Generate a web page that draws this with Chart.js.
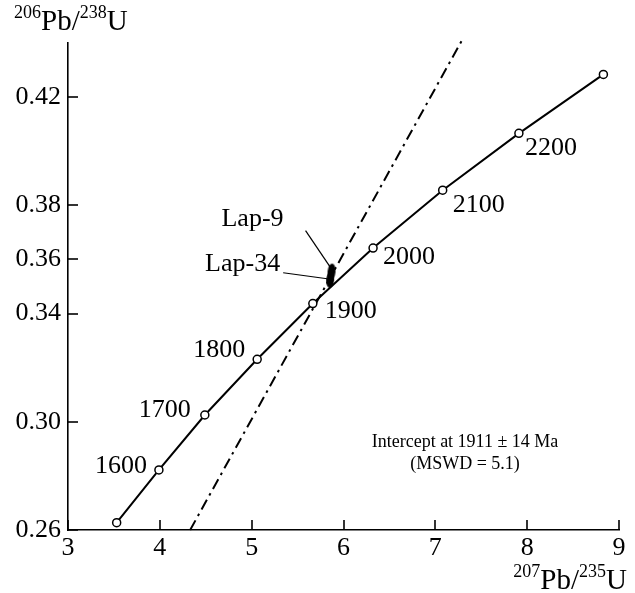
<!DOCTYPE html>
<html>
<head>
<meta charset="utf-8">
<script src="https://cdn.jsdelivr.net/npm/chart.js@4/dist/chart.umd.min.js"></script>
<style>
html,body{margin:0;padding:0;background:#fff;}
#wrap{width:635px;height:593px;}
</style>
</head>
<body>
<div id="wrap"><canvas id="c" width="635" height="593"></canvas></div>
<script>
// ---- data ----
const concordiaX = [3.53, 3.99, 4.49, 5.06, 5.666, 6.322, 7.08, 7.91, 8.83];
const concordiaY = [0.2627, 0.2822, 0.3025, 0.3231, 0.3437, 0.3642, 0.3856, 0.4066, 0.4284];
const concordiaAges = ['', '1600', '1700', '1800', '1900', '2000', '2100', '2200', ''];
const discordiaX = [4.33, 7.29];
const discordiaY = [0.26, 0.441];
const sampleNames = ['Lap-9', 'Lap-34'];
const sampleX = [5.87, 5.855];
const sampleY = [0.3555, 0.3525];
const xTicks = [3, 4, 5, 6, 7, 8, 9];
const yTicks = [0.26, 0.30, 0.34, 0.36, 0.38, 0.42];
const interceptText = ['Intercept at 1911 \u00B1 14 Ma', '(MSWD = 5.1)'];

// ---- styles / layout ----
const SERIF = '"Liberation Serif", "Times New Roman", serif';
const ageLabelStyle = {
  '1600': {align: 'right', dx: -12, dy: -4},
  '1700': {align: 'right', dx: -14, dy: -5},
  '1800': {align: 'right', dx: -12, dy: -9},
  '1900': {align: 'left', dx: 12, dy: 8},
  '2000': {align: 'left', dx: 10, dy: 9},
  '2100': {align: 'left', dx: 10, dy: 15},
  '2200': {align: 'left', dx: 6, dy: 15}
};
const sampleLabelStyle = {
  'Lap-9': {tx: -48, ty: -46, lx0: -26, ly0: -41, lx1: -1, ly1: -4},
  'Lap-34': {tx: -50, ty: -9, lx0: -47, ly0: -7, lx1: -3, ly1: -1}
};

// ellipse marker for samples
const ell = document.createElement('canvas');
ell.width = 12; ell.height = 20;
(function(){
  const g = ell.getContext('2d');
  g.fillStyle = '#000';
  g.beginPath();
  g.ellipse(6, 10, 4, 8, 0.1, 0, Math.PI * 2);
  g.fill();
})();

const toPts = (xs, ys) => xs.map((x, i) => ({x: x, y: ys[i]}));

const decorPlugin = {
  id: 'decor',
  afterDraw(chart) {
    const ctx = chart.ctx;
    const xs = chart.scales.x, ys = chart.scales.y;
    const area = chart.chartArea;
    ctx.save();
    ctx.strokeStyle = '#000';
    ctx.fillStyle = '#000';
    ctx.lineWidth = 1.6;
    ctx.setLineDash([]);
    // inside ticks
    xTicks.forEach(v => {
      const px = Math.round(xs.getPixelForValue(v));
      ctx.beginPath(); ctx.moveTo(px, area.bottom); ctx.lineTo(px, area.bottom - 10); ctx.stroke();
    });
    yTicks.forEach(v => {
      const py = Math.round(ys.getPixelForValue(v));
      ctx.beginPath(); ctx.moveTo(area.left, py); ctx.lineTo(area.left + 10, py); ctx.stroke();
    });
    // age labels
    ctx.font = '26px ' + SERIF;
    ctx.textBaseline = 'middle';
    concordiaAges.forEach((a, i) => {
      if (!a) return;
      const st = ageLabelStyle[a];
      const px = xs.getPixelForValue(concordiaX[i]);
      const py = ys.getPixelForValue(concordiaY[i]);
      ctx.textAlign = st.align;
      ctx.fillText(a, px + st.dx, py + st.dy);
    });
    // sample labels + leaders
    ctx.textAlign = 'right';
    ctx.textBaseline = 'alphabetic';
    ctx.lineWidth = 1.2;
    sampleNames.forEach((n, i) => {
      const st = sampleLabelStyle[n];
      const px = xs.getPixelForValue(sampleX[i]);
      const py = ys.getPixelForValue(sampleY[i]);
      ctx.fillText(n, px + st.tx, py + st.ty);
      ctx.beginPath();
      ctx.moveTo(px + st.lx0, py + st.ly0);
      ctx.lineTo(px + st.lx1, py + st.ly1);
      ctx.stroke();
    });
    // intercept text
    ctx.font = '18px ' + SERIF;
    ctx.textAlign = 'center';
    ctx.fillText(interceptText[0], 465, 447);
    ctx.fillText(interceptText[1], 465, 469);
    // axis titles with superscripts
    function supTitle(parts, x, y, alignRight) {
      let total = 0;
      parts.forEach(p => { ctx.font = (p.sup ? '18px ' : '29px ') + SERIF; total += ctx.measureText(p.t).width; });
      let cx = alignRight ? x - total : x;
      ctx.textAlign = 'left';
      parts.forEach(p => {
        ctx.font = (p.sup ? '18px ' : '29px ') + SERIF;
        ctx.fillText(p.t, cx, p.sup ? y - 12 : y);
        cx += ctx.measureText(p.t).width;
      });
    }
    supTitle([{t:'206',sup:true},{t:'Pb/'},{t:'238',sup:true},{t:'U'}], 14, 30, false);
    supTitle([{t:'207',sup:true},{t:'Pb/'},{t:'235',sup:true},{t:'U'}], 627, 589, true);
    ctx.restore();
  }
};

new Chart(document.getElementById('c'), {
  type: 'scatter',
  data: {
    datasets: [
      {
        label: 'samples',
        data: toPts(sampleX, sampleY),
        pointStyle: ell,
        order: 0
      },
      {
        label: 'concordia',
        data: toPts(concordiaX, concordiaY),
        showLine: true,
        borderColor: '#000',
        borderWidth: 2,
        pointRadius: 4,
        pointBackgroundColor: '#fff',
        pointBorderColor: '#000',
        pointBorderWidth: 1.5,
        order: 1
      },
      {
        label: 'discordia',
        data: toPts(discordiaX, discordiaY),
        showLine: true,
        borderColor: '#000',
        borderWidth: 2,
        borderDash: [11, 5, 2.5, 5],
        pointRadius: 0,
        clip: false,
        order: 2
      }
    ]
  },
  options: {
    responsive: false,
    animation: false,
    devicePixelRatio: 1,
    layout: {padding: {top: 43, right: 16, left: 0, bottom: 0}},
    plugins: {legend: {display: false}, tooltip: {enabled: false}},
    scales: {
      x: {
        type: 'linear', min: 3, max: 9,
        afterBuildTicks: s => { s.ticks = xTicks.map(v => ({value: v})); },
        afterFit: s => { s.height = 63; },
        ticks: {font: {family: SERIF, size: 26}, color: '#000', padding: 3, callback: v => String(v)},
        grid: {display: false, drawTicks: false},
        border: {display: true, color: '#000', width: 1.6}
      },
      y: {
        type: 'linear', min: 0.26, max: 0.44,
        afterBuildTicks: s => { s.ticks = yTicks.map(v => ({value: v})); },
        afterFit: s => { s.width = 68; },
        ticks: {font: {family: SERIF, size: 26}, color: '#000', padding: 7, callback: v => v.toFixed(2)},
        grid: {display: false, drawTicks: false},
        border: {display: true, color: '#000', width: 1.6}
      }
    }
  },
  plugins: [decorPlugin]
});
</script>
</body>
</html>
